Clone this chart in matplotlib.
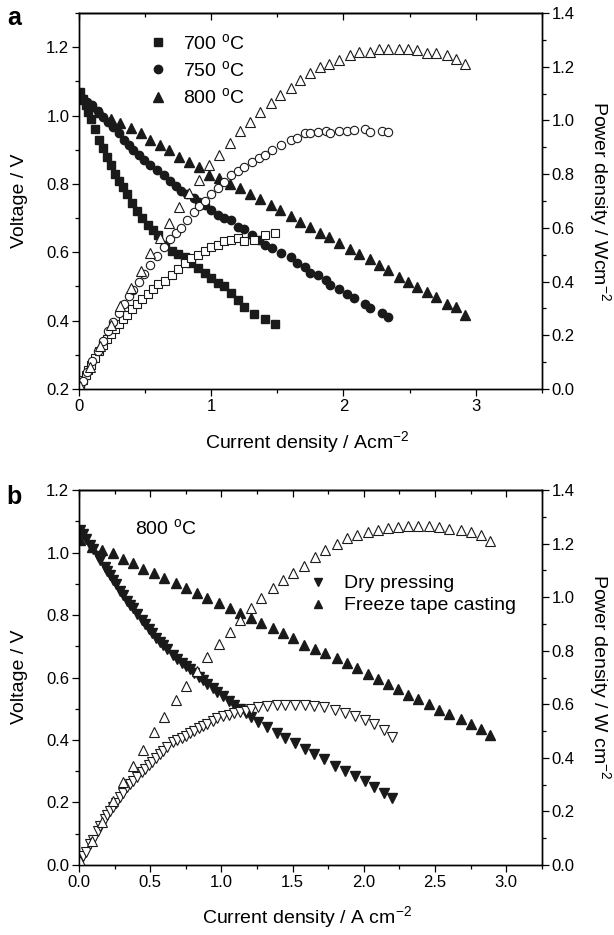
import matplotlib
matplotlib.use('Agg')
import matplotlib.pyplot as plt
from matplotlib.ticker import MultipleLocator, NullFormatter, FormatStrFormatter

plt.rcParams['font.family'] = ['Liberation Sans', 'DejaVu Sans']
plt.rcParams['mathtext.fontset'] = 'custom'
plt.rcParams['mathtext.rm'] = 'Liberation Sans'
plt.rcParams['mathtext.it'] = 'Liberation Sans:italic'
plt.rcParams['mathtext.bf'] = 'Liberation Sans:bold'

# ---------------- Panel a data ----------------
i700 = [0.01, 0.03, 0.05, 0.07, 0.09, 0.12, 0.15, 0.18, 0.21, 0.24, 0.27, 0.30, 0.33, 0.36,
        0.40, 0.44, 0.48, 0.52, 0.56, 0.60, 0.65, 0.70, 0.75, 0.80, 0.85, 0.90, 0.95, 1.00,
        1.05, 1.10, 1.15, 1.20, 1.25, 1.32, 1.41, 1.48]
v700 = [1.07, 1.05, 1.03, 1.01, 0.99, 0.96, 0.93, 0.905, 0.88, 0.855, 0.83, 0.81, 0.79, 0.77,
        0.745, 0.72, 0.70, 0.68, 0.665, 0.65, 0.62, 0.605, 0.595, 0.585, 0.57, 0.555, 0.54, 0.525,
        0.51, 0.50, 0.48, 0.46, 0.44, 0.42, 0.405, 0.39]
p700 = [0.011, 0.032, 0.052, 0.071, 0.089, 0.115, 0.14, 0.163, 0.185, 0.205, 0.224, 0.243, 0.261, 0.277,
        0.298, 0.317, 0.336, 0.354, 0.372, 0.39, 0.403, 0.424, 0.448, 0.47, 0.487, 0.50, 0.515, 0.53,
        0.537, 0.55, 0.555, 0.562, 0.55, 0.555, 0.575, 0.582]

i750 = [0.01, 0.03, 0.06, 0.10, 0.14, 0.18, 0.22, 0.26, 0.30, 0.34, 0.38, 0.41, 0.45, 0.49,
        0.54, 0.59, 0.64, 0.69, 0.73, 0.77, 0.82, 0.87, 0.91, 0.95, 1.00, 1.05, 1.10, 1.15,
        1.20, 1.25, 1.31, 1.36, 1.41, 1.46, 1.53, 1.60, 1.65, 1.71, 1.75, 1.81, 1.87, 1.90,
        1.97, 2.03, 2.08, 2.16, 2.20, 2.29, 2.34]
v750 = [1.06, 1.05, 1.04, 1.03, 1.012, 0.995, 0.98, 0.966, 0.948, 0.93, 0.915, 0.90, 0.885, 0.87,
        0.855, 0.84, 0.825, 0.81, 0.795, 0.78, 0.77, 0.758, 0.748, 0.738, 0.725, 0.71, 0.70, 0.694,
        0.675, 0.668, 0.65, 0.635, 0.62, 0.612, 0.598, 0.585, 0.568, 0.557, 0.54, 0.533, 0.52, 0.504,
        0.492, 0.478, 0.466, 0.45, 0.437, 0.423, 0.41]
p750 = [0.01, 0.03, 0.062, 0.103, 0.142, 0.179, 0.216, 0.251, 0.284, 0.316, 0.348, 0.37, 0.40, 0.427,
        0.462, 0.496, 0.528, 0.559, 0.58, 0.60, 0.631, 0.659, 0.681, 0.701, 0.725, 0.748, 0.77, 0.797,
        0.81, 0.825, 0.845, 0.86, 0.871, 0.89, 0.908, 0.927, 0.934, 0.953, 0.953, 0.957, 0.96, 0.953,
        0.96, 0.96, 0.964, 0.97, 0.957, 0.96, 0.957]

i800 = [0.01, 0.08, 0.16, 0.24, 0.31, 0.39, 0.47, 0.54, 0.61, 0.68, 0.76, 0.83, 0.91, 0.98,
        1.06, 1.14, 1.22, 1.29, 1.37, 1.45, 1.52, 1.60, 1.67, 1.75, 1.82, 1.89, 1.97, 2.05,
        2.12, 2.20, 2.27, 2.34, 2.42, 2.49, 2.56, 2.63, 2.70, 2.78, 2.85, 2.92]
v800 = [1.05, 1.027, 1.01, 0.99, 0.978, 0.963, 0.948, 0.93, 0.913, 0.90, 0.88, 0.864, 0.85, 0.826,
        0.817, 0.80, 0.788, 0.772, 0.755, 0.738, 0.723, 0.706, 0.688, 0.674, 0.656, 0.644, 0.627, 0.61,
        0.595, 0.58, 0.563, 0.548, 0.528, 0.513, 0.498, 0.483, 0.469, 0.45, 0.44, 0.416]
p800 = [0.01, 0.08, 0.16, 0.24, 0.31, 0.376, 0.44, 0.506, 0.562, 0.618, 0.678, 0.73, 0.78, 0.834,
        0.871, 0.916, 0.962, 0.994, 1.03, 1.065, 1.095, 1.12, 1.15, 1.176, 1.20, 1.21, 1.225, 1.243,
        1.255, 1.255, 1.266, 1.266, 1.266, 1.266, 1.262, 1.25, 1.25, 1.243, 1.228, 1.21]

# ---------------- Panel b data ----------------
i_dp = [0.01, 0.03, 0.05, 0.08, 0.10, 0.13, 0.15, 0.18, 0.20, 0.22, 0.24, 0.26, 0.29, 0.31,
        0.34, 0.36, 0.38, 0.41, 0.44, 0.46, 0.49, 0.51, 0.54, 0.57, 0.59, 0.62, 0.66, 0.69,
        0.72, 0.75, 0.78, 0.81, 0.84, 0.87, 0.90, 0.94, 0.97, 1.01, 1.05, 1.09, 1.13, 1.17,
        1.21, 1.26, 1.32, 1.39, 1.45, 1.52, 1.59, 1.65, 1.72, 1.80, 1.87, 1.94, 2.01, 2.07,
        2.14, 2.20]
v_dp = [1.072, 1.058, 1.044, 1.024, 1.010, 0.990, 0.976, 0.955, 0.941, 0.927, 0.913, 0.899, 0.878, 0.864,
        0.845, 0.833, 0.821, 0.803, 0.784, 0.772, 0.754, 0.742, 0.728, 0.714, 0.705, 0.690, 0.672, 0.660,
        0.648, 0.637, 0.626, 0.614, 0.603, 0.592, 0.580, 0.565, 0.553, 0.540, 0.526, 0.512, 0.498, 0.486,
        0.474, 0.458, 0.442, 0.422, 0.406, 0.390, 0.371, 0.355, 0.339, 0.317, 0.300, 0.285, 0.269, 0.250,
        0.230, 0.214]
p_dp = [0.015, 0.033, 0.05, 0.08, 0.095, 0.128, 0.146, 0.17, 0.186, 0.203, 0.218, 0.233, 0.253, 0.267,
        0.29, 0.302, 0.314, 0.33, 0.348, 0.36, 0.375, 0.385, 0.40, 0.415, 0.426, 0.44, 0.458, 0.466,
        0.475, 0.482, 0.492, 0.502, 0.51, 0.518, 0.528, 0.538, 0.547, 0.555, 0.56, 0.566, 0.571, 0.575,
        0.582, 0.589, 0.595, 0.597, 0.597, 0.597, 0.597, 0.592, 0.588, 0.58, 0.568, 0.558, 0.541, 0.526,
        0.504, 0.478]

i_ftc = [0.01, 0.09, 0.16, 0.24, 0.31, 0.38, 0.45, 0.53, 0.60, 0.68, 0.75, 0.83, 0.90, 0.98,
         1.06, 1.13, 1.21, 1.28, 1.36, 1.43, 1.50, 1.58, 1.66, 1.73, 1.81, 1.88, 1.95, 2.03,
         2.10, 2.17, 2.24, 2.31, 2.38, 2.46, 2.53, 2.60, 2.68, 2.75, 2.82, 2.89]
v_ftc = [1.04, 1.018, 1.008, 0.998, 0.979, 0.966, 0.947, 0.934, 0.918, 0.902, 0.886, 0.87, 0.854, 0.838,
         0.822, 0.806, 0.79, 0.774, 0.758, 0.742, 0.726, 0.704, 0.691, 0.678, 0.662, 0.646, 0.630, 0.611,
         0.595, 0.579, 0.562, 0.545, 0.531, 0.515, 0.497, 0.483, 0.467, 0.451, 0.435, 0.416]
p_ftc = [0.015, 0.09, 0.16, 0.238, 0.31, 0.37, 0.43, 0.497, 0.553, 0.615, 0.67, 0.725, 0.775, 0.825,
         0.87, 0.913, 0.958, 0.995, 1.034, 1.065, 1.092, 1.118, 1.15, 1.176, 1.20, 1.22, 1.232, 1.243,
         1.252, 1.258, 1.262, 1.265, 1.266, 1.266, 1.262, 1.256, 1.252, 1.243, 1.232, 1.21]

labels_a = ["700 $^{\\mathrm{o}}$C", "750 $^{\\mathrm{o}}$C", "800 $^{\\mathrm{o}}$C"]
labels_b = ["Dry pressing", "Freeze tape casting"]

TICK = 12
LAB = 14

fig = plt.figure(figsize=(6.14, 9.35), dpi=100)
W = 0.7536
axA = fig.add_axes([0.1287, 0.584, W, 0.402])
axB = fig.add_axes([0.1287, 0.0749, W, 0.401])


def style(ax, axr, xmax, xmaj, xmin, ylo, yhi):
    ax.set_xlim(0, xmax)
    ax.set_ylim(ylo, yhi)
    axr.set_ylim(0, 1.4)
    ax.xaxis.set_major_locator(MultipleLocator(xmaj))
    ax.xaxis.set_minor_locator(MultipleLocator(xmin))
    ax.yaxis.set_major_locator(MultipleLocator(0.2))
    ax.yaxis.set_minor_locator(MultipleLocator(0.1))
    axr.yaxis.set_major_locator(MultipleLocator(0.2))
    axr.yaxis.set_minor_locator(MultipleLocator(0.1))
    for a in (ax, axr):
        a.tick_params(which='major', direction='out', length=5, width=0.9, labelsize=TICK, pad=2)
        a.tick_params(which='minor', direction='out', length=3, width=0.9)
        for s in a.spines.values():
            s.set_linewidth(1.0)
    sec = ax.secondary_xaxis('top')
    sec.xaxis.set_major_locator(MultipleLocator(xmaj))
    sec.xaxis.set_minor_locator(MultipleLocator(xmin))
    sec.xaxis.set_major_formatter(NullFormatter())
    sec.tick_params(which='major', direction='in', length=5, width=0.9)
    sec.tick_params(which='minor', direction='in', length=3, width=0.9)
    sec.spines['top'].set_linewidth(1.0)


# ---- Panel a ----
axAr = axA.twinx()
l700, = axA.plot(i700, v700, ls='none', marker='s', ms=5.5, color='#1a1a1a', label=labels_a[0])
l750, = axA.plot(i750, v750, ls='none', marker='o', ms=6, color='#1a1a1a', label=labels_a[1])
l800, = axA.plot(i800, v800, ls='none', marker='^', ms=7, color='#1a1a1a', label=labels_a[2])
axAr.plot(i700, p700, ls='none', marker='s', ms=5.5, mfc='white', mec='#1a1a1a', mew=0.8)
axAr.plot(i750, p750, ls='none', marker='o', ms=6, mfc='white', mec='#1a1a1a', mew=0.8)
axAr.plot(i800, p800, ls='none', marker='^', ms=6.5, mfc='white', mec='#1a1a1a', mew=0.8)
style(axA, axAr, 3.5, 1, 0.5, 0.2, 1.3)
axA.yaxis.set_major_formatter(FormatStrFormatter('%.1f'))
axAr.yaxis.set_major_formatter(FormatStrFormatter('%.1f'))
axA.legend(handles=[l700, l750, l800], loc='upper left', bbox_to_anchor=(0.12, 0.984),
           frameon=False, fontsize=LAB, handlelength=1.0, handletextpad=0.8,
           labelspacing=0.38, borderaxespad=0.3)

# ---- Panel b ----
axBr = axB.twinx()
ldp, = axB.plot(i_dp, v_dp, ls='none', marker='v', ms=7, color='#1a1a1a', label=labels_b[0])
lftc, = axB.plot(i_ftc, v_ftc, ls='none', marker='^', ms=7, color='#1a1a1a', label=labels_b[1])
axBr.plot(i_dp, p_dp, ls='none', marker='v', ms=6.5, mfc='white', mec='#1a1a1a', mew=0.8)
axBr.plot(i_ftc, p_ftc, ls='none', marker='^', ms=6.5, mfc='white', mec='#1a1a1a', mew=0.8)
style(axB, axBr, 3.25, 0.5, 0.25, 0.0, 1.2)
axB.xaxis.set_major_formatter(FormatStrFormatter('%.1f'))
axB.yaxis.set_major_formatter(FormatStrFormatter('%.1f'))
axBr.yaxis.set_major_formatter(FormatStrFormatter('%.1f'))
axB.legend(handles=[ldp, lftc], loc='upper left', bbox_to_anchor=(0.467, 0.81),
           frameon=False, fontsize=LAB, handlelength=1.0, handletextpad=0.8,
           labelspacing=0.22, markerscale=0.75, borderaxespad=0.3)
axB.text(0.12, 0.9, "800 $^{\\mathrm{o}}$C", transform=axB.transAxes, fontsize=LAB,
         ha='left', va='center')

# ---- labels ----
fig.text(0.5, 1 - 442 / 935, "Current density / Acm$^{-2}$", ha='center', va='center', fontsize=LAB)
fig.text(0.5, 1 - 917 / 935, "Current density / A cm$^{-2}$", ha='center', va='center', fontsize=LAB)
fig.text(20 / 614, 1 - 201 / 935, "Voltage / V", rotation=90, ha='center', va='center', fontsize=LAB)
fig.text(20 / 614, 1 - 677 / 935, "Voltage / V", rotation=90, ha='center', va='center', fontsize=LAB)
fig.text(600 / 614, 1 - 201 / 935, "Power density / Wcm$^{-2}$", rotation=270, ha='center', va='center', fontsize=LAB)
fig.text(600 / 614, 1 - 677 / 935, "Power density / W cm$^{-2}$", rotation=270, ha='center', va='center', fontsize=LAB)
fig.text(14 / 614, 1 - 18 / 935, "a", fontsize=18, fontweight='bold', ha='center', va='center')
fig.text(14 / 614, 1 - 497 / 935, "b", fontsize=18, fontweight='bold', ha='center', va='center')

fig.savefig('out.png', dpi=100)
